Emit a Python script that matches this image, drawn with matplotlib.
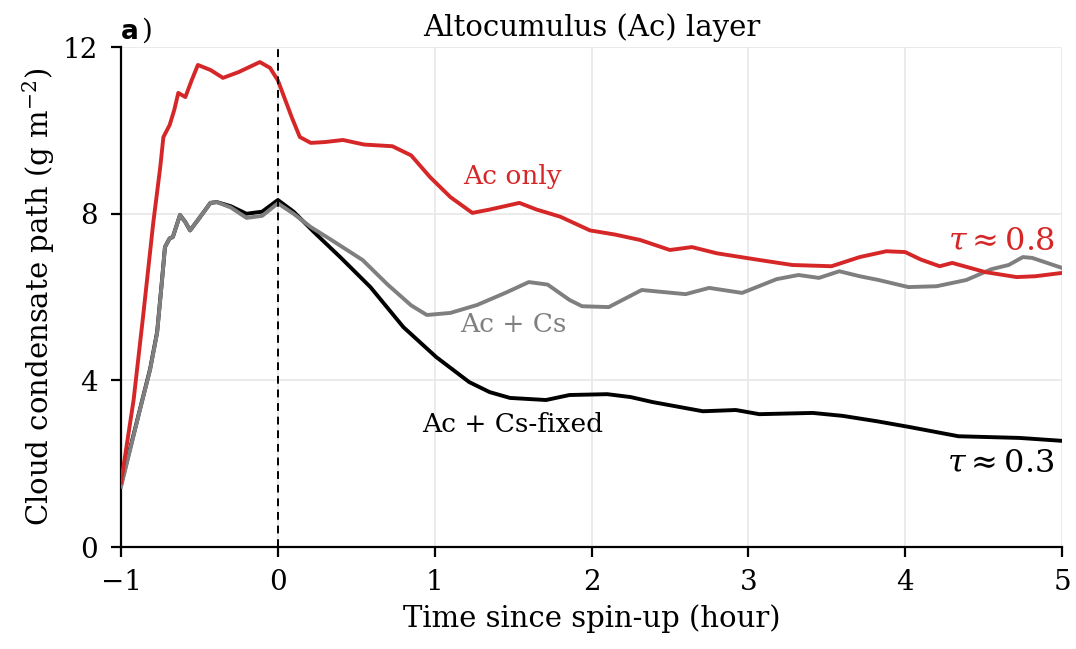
import matplotlib
matplotlib.use("Agg")
import matplotlib.pyplot as plt

plt.rcParams['font.family'] = ['DejaVu Serif']
plt.rcParams['mathtext.fontset'] = 'dejavuserif'

# Ac only (red)
t_red = [-1.0, -0.92, -0.86, -0.795, -0.75, -0.73, -0.69, -0.66, -0.635, -0.59, -0.55, -0.51, -0.43, -0.35, -0.25,
         -0.115, -0.05, 0.0, 0.05, 0.09, 0.14, 0.21, 0.3, 0.415, 0.55, 0.73, 0.85, 0.97, 1.1, 1.24, 1.35,
         1.54, 1.65, 1.8, 1.99, 2.15, 2.31, 2.5, 2.64, 2.8, 3.07, 3.28, 3.53, 3.71, 3.88, 4.0, 4.1,
         4.22, 4.3, 4.51, 4.71, 4.83, 5.0]
y_red = [1.55, 3.53, 5.52, 7.77, 9.12, 9.84, 10.13, 10.5, 10.9, 10.8, 11.2, 11.57, 11.45, 11.26, 11.4,
         11.64, 11.5, 11.2, 10.7, 10.3, 9.84, 9.7, 9.72, 9.77, 9.66, 9.62, 9.4, 8.88, 8.4, 8.02, 8.1,
         8.26, 8.1, 7.93, 7.6, 7.5, 7.37, 7.13, 7.2, 7.05, 6.89, 6.77, 6.74, 6.96, 7.1, 7.08, 6.9,
         6.74, 6.82, 6.6, 6.48, 6.5, 6.58]

# Ac + Cs (gray)
t_gray = [-1.0, -0.88, -0.815, -0.77, -0.74, -0.72, -0.69, -0.67, -0.624, -0.59, -0.56, -0.51, -0.43, -0.39, -0.3,
          -0.2, -0.1, 0.0, 0.1, 0.21, 0.35, 0.54, 0.7, 0.85, 0.95, 1.1, 1.27, 1.45, 1.6, 1.72, 1.86,
          1.94, 2.11, 2.32, 2.6, 2.75, 2.96, 3.18, 3.32, 3.45, 3.58, 3.71, 3.83, 4.02, 4.2, 4.39,
          4.55, 4.66, 4.75, 4.81, 5.0]
y_gray = [1.45, 3.29, 4.25, 5.14, 6.34, 7.2, 7.41, 7.44, 7.97, 7.8, 7.6, 7.85, 8.26, 8.28, 8.15,
          7.9, 7.95, 8.25, 8.0, 7.68, 7.35, 6.89, 6.3, 5.8, 5.57, 5.62, 5.81, 6.1, 6.36, 6.3, 5.93,
          5.78, 5.76, 6.17, 6.07, 6.22, 6.1, 6.43, 6.53, 6.46, 6.62, 6.5, 6.41, 6.24, 6.26, 6.41,
          6.67, 6.77, 6.96, 6.94, 6.7]

# Ac + Cs-fixed (black)
t_blk = [-1.0, -0.88, -0.815, -0.77, -0.74, -0.72, -0.69, -0.67, -0.624, -0.59, -0.56, -0.51, -0.43, -0.39, -0.3,
         -0.2, -0.1, 0.0, 0.1, 0.23, 0.4, 0.59, 0.8, 1.01, 1.22, 1.35, 1.48, 1.71, 1.86, 2.1, 2.25,
         2.39, 2.71, 2.92, 3.07, 3.41, 3.6, 3.82, 4.03, 4.34, 4.73, 5.0]
y_blk = [1.5, 3.3, 4.27, 5.16, 6.36, 7.2, 7.41, 7.44, 7.97, 7.8, 7.6, 7.85, 8.26, 8.28, 8.18,
         8.0, 8.05, 8.33, 8.05, 7.56, 6.95, 6.24, 5.28, 4.56, 3.96, 3.72, 3.58, 3.53, 3.65, 3.67, 3.6,
         3.48, 3.26, 3.29, 3.19, 3.22, 3.15, 3.02, 2.88, 2.66, 2.62, 2.55]

xticks = [-1, 0, 1, 2, 3, 4, 5]
yticks = [0, 4, 8, 12]

RED = '#d62728'
GRAY = '#7f7f7f'

fig = plt.figure(figsize=(10.76, 6.49), dpi=100)
ax = fig.add_axes([0.1125, 0.157, 0.8745, 0.7705])

ax.plot(t_blk, y_blk, color='black', lw=2.8, zorder=3, solid_joinstyle='round')
ax.plot(t_gray, y_gray, color=GRAY, lw=2.8, zorder=4, solid_joinstyle='round')
ax.plot(t_red, y_red, color=RED, lw=2.8, zorder=5, solid_joinstyle='round')
ax.axvline(0, color='black', lw=1.4, ls=(0, (4, 3)), zorder=6)

ax.set_xlim(-1, 5)
ax.set_ylim(0, 12)
ax.set_xticks(xticks)
ax.set_yticks(yticks)
ax.set_xticklabels(['\u22121' if v == -1 else str(v) for v in xticks])
ax.grid(True, color='#e8e8e8', lw=1.2, zorder=0)
ax.set_axisbelow(True)
for s in ['top', 'right']:
    ax.spines[s].set_visible(False)
for s in ['left', 'bottom']:
    ax.spines[s].set_linewidth(1.6)
ax.tick_params(labelsize=20, width=1.6, length=7)
ax.tick_params(axis='x', pad=9)
ax.tick_params(axis='y', pad=10)

ax.set_xlabel('Time since spin-up (hour)', fontsize=21, labelpad=6)
ax.set_ylabel('Cloud condensate path (g m$^{-2}$)', fontsize=21, labelpad=4)
ax.set_title('Altocumulus (Ac) layer', fontsize=21, pad=8)

ax.text(-1.0, 12.05, 'a', fontsize=19, fontweight='bold', family='DejaVu Sans', va='bottom', ha='left')
ax.text(-0.87, 12.05, ')', fontsize=20, va='bottom', ha='left')

ax.text(1.18, 8.9, 'Ac only', color=RED, fontsize=19, ha='left', va='center')
ax.text(1.16, 5.35, 'Ac + Cs', color=GRAY, fontsize=19, ha='left', va='center')
ax.text(0.92, 2.95, 'Ac + Cs-fixed', color='black', fontsize=19, ha='left', va='center')
ax.text(4.95, 7.32, r'$\tau \approx 0.8$', color=RED, fontsize=23, ha='right', va='center')
ax.text(4.95, 2.0, r'$\tau \approx 0.3$', color='black', fontsize=23, ha='right', va='center')

fig.savefig('out.png', dpi=100)
